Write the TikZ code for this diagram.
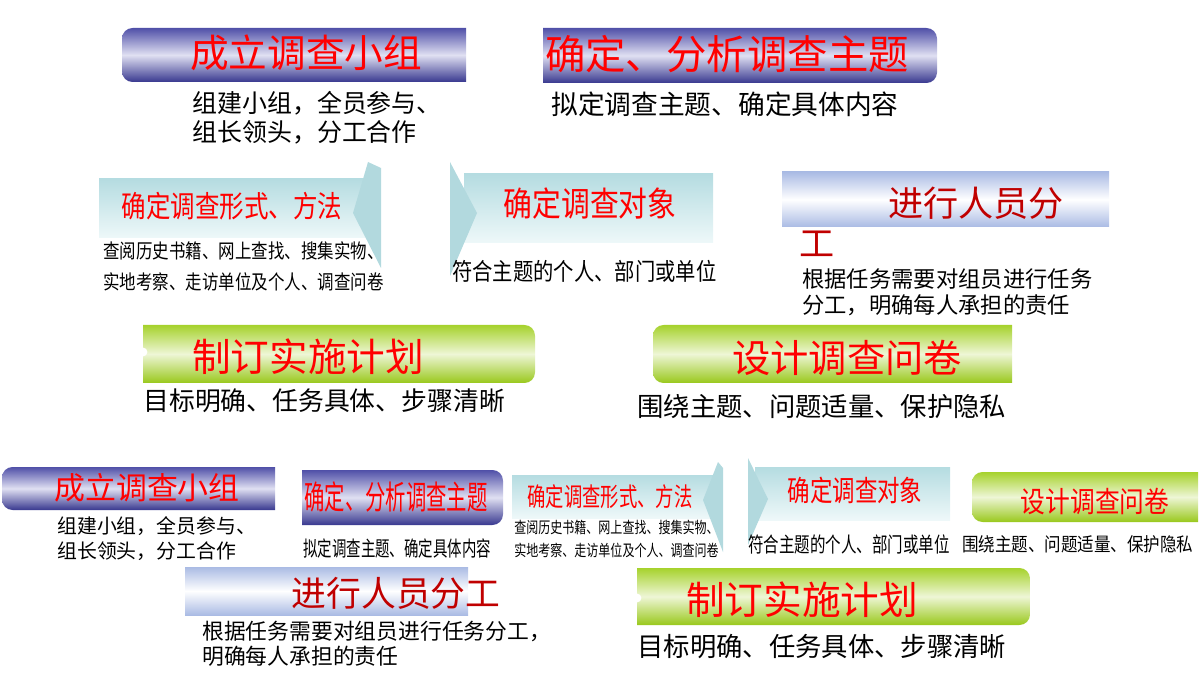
\documentclass[tikz,border=0pt]{standalone}
\usepackage{fontspec}
\usepackage{graphicx}
\usepackage{tikz}
\newfontfamily\cjk{Noto Sans CJK SC}
\newcommand{\csz}[2]{\fontsize{#1}{#2}\selectfont}
\newcommand{\narrow}[2]{\scalebox{#1}[1]{#2}}
\definecolor{ptop}{HTML}{5050A8}
\definecolor{pbot}{HTML}{38388F}
\definecolor{pmid}{HTML}{E0E0F2}
\definecolor{gtop}{HTML}{A6D22C}
\definecolor{gbot}{HTML}{99C81C}
\definecolor{gmid}{HTML}{EEF6D6}
\definecolor{ctop}{HTML}{B5DCE1}
\definecolor{cbot}{HTML}{EEF8F9}
\definecolor{chevcol}{HTML}{B2D9DE}
\definecolor{bedge}{HTML}{AABBE4}
\definecolor{titlered}{HTML}{FF0000}
\definecolor{darkred}{HTML}{C00000}

\begin{document}
\begin{tikzpicture}[x=0.02cm,y=-0.02cm,
    title/.style={inner sep=0pt,text=titlered,font=\cjk},
    desc/.style={inner sep=0pt,anchor=north west,align=left,font=\cjk},
    purplebox/.style={top color=ptop,bottom color=pbot,middle color=pmid},
    greenbox/.style={top color=gtop,bottom color=gbot,middle color=gmid},
    cyanbox/.style={top color=ctop,bottom color=cbot},
    bluebox/.style={top color=bedge,bottom color=bedge,middle color=white},
    chev/.style={fill=chevcol}]

\useasboundingbox (0,0) rectangle (1200,675);

% top part: boxes
\begin{scope}
  \clip (122,28) rectangle (466,82);
  \shade[purplebox,rounded corners=6pt] (122,28) rectangle (490,82);
\end{scope}
\begin{scope}
  \clip (543,28) rectangle (937,83);
  \shade[purplebox,rounded corners=6pt] (520,28) rectangle (937,83);
\end{scope}
\shade[cyanbox] (99,179) rectangle (365,238);
\fill[chev] (368,162) -- (381,168) -- (381,268) -- (353,213) -- cycle;
\shade[cyanbox] (464,174) rectangle (713,243);
\fill[chev] (450,162) -- (477,213) -- (450,276) -- cycle;
\shade[bluebox] (782,172) rectangle (1109,227);
\begin{scope}
  \clip (143,325) rectangle (535,383);
  \shade[greenbox,rounded corners=6pt] (120,325) rectangle (535,383);
\end{scope}
\fill[white] (143,352) circle[radius=2.5pt];
\begin{scope}
  \clip (653,325) rectangle (1012,383);
  \shade[greenbox,rounded corners=6pt] (653,325) rectangle (1040,383);
\end{scope}

% top part: texts
\node[title] (tzuzhi) at (306,53) {\csz{22}{26}成立调查小组};
\node[desc,font=\cjk\csz{14.2}{16.4}] (dzuzhi) at (192,91) {组建小组，全员参与、\\组长领头，分工合作};
\node[title] (tzhuti) at (727,54) {\csz{23}{27}确定、分析调查主题};
\node[desc] (dzhuti) at (551,92) {\csz{15.2}{18}拟定调查主题、确定具体内容};
\node[title] (tfangfa) at (232,206) {\csz{17}{20}\narrow{0.82}{确定调查形式、方法}};
\node[desc] (dfangfa) at (103,241) {\csz{11.3}{18.1}\narrow{0.83}{\vbox{\hbox{查阅历史书籍、网上查找、搜集实物、}\hbox{实地考察、走访单位及个人、调查问卷}}}};
\node[title] (tduixiang) at (590,204) {\csz{19.3}{22}\narrow{0.85}{确定调查对象}};
\node[desc] (dduixiang) at (452,260) {\csz{13.6}{16}\narrow{0.85}{符合主题的个人、部门或单位}};
\node[title,text=darkred] (tfengong) at (976,203) {\csz{20}{24}进行人员分};
\node[title,text=darkred] (tgong) at (817,244) {\csz{20}{24}工};
\node[desc,font=\cjk\csz{12.7}{15.3}] (dfengong) at (802,268) {根据任务需要对组员进行任务\\分工，明确每人承担的责任};
\node[title] (tjihua) at (308,357) {\csz{22}{26}制订实施计划};
\node[desc] (djihua) at (143,388) {\csz{14.7}{18}目标明确、任务具体、步骤清晰};
\node[title] (twenjuan) at (847,358) {\csz{21.8}{26}设计调查问卷};
\node[desc] (dwenjuan) at (637,394) {\csz{15}{18}围绕主题、问题适量、保护隐私};

% bottom part: boxes
\begin{scope}
  \clip (2,467) rectangle (275,510);
  \shade[purplebox,rounded corners=6pt] (2,467) rectangle (300,510);
\end{scope}
\begin{scope}
  \clip (302,470) rectangle (503,525);
  \shade[purplebox,rounded corners=6pt] (280,470) rectangle (503,525);
\end{scope}
\shade[cyanbox] (512,475) rectangle (715,518);
\fill[chev] (718,462) -- (723,468) -- (723,552) -- (703,500) -- cycle;
\shade[cyanbox] (755,467) rectangle (950,520);
\fill[chev] (748,458) -- (768,499) -- (748,545) -- cycle;
\begin{scope}
  \clip (972,472) rectangle (1198,522);
  \shade[greenbox,rounded corners=6pt] (972,472) rectangle (1220,522);
\end{scope}
\shade[bluebox] (185,567) rectangle (468,615);
\begin{scope}
  \clip (637,568) rectangle (1030,625);
  \shade[greenbox,rounded corners=6pt] (610,568) rectangle (1030,625);
\end{scope}
\fill[white] (637,598) circle[radius=2.5pt];

% bottom part: texts
\node[title] (bzuzhi) at (147,488) {\csz{17.6}{21}成立调查小组};
\node[desc,font=\cjk\csz{11.3}{14.2}] (czuzhi) at (57,516) {组建小组，全员参与、\\组长领头，分工合作};
\node[title] (bzhuti) at (396,497) {\csz{18.7}{22}\narrow{0.62}{确定、分析调查主题}};
\node[desc] (czhuti) at (303,538) {\csz{11.9}{14}\narrow{0.69}{拟定调查主题、确定具体内容}};
\node[title] (bfangfa) at (610,497) {\csz{14.7}{18}\narrow{0.71}{确定调查形式、方法}};
\node[desc] (cfangfa) at (514,520) {\csz{9}{13}\narrow{0.76}{\vbox{\hbox{查阅历史书籍、网上查找、搜集实物、}\hbox{实地考察、走访单位及个人、调查问卷}}}};
\node[title] (bduixiang) at (855,490) {\csz{16.4}{20}\narrow{0.78}{确定调查对象}};
\node[desc] (cduixiang) at (748,534) {\csz{11.9}{14}\narrow{0.74}{符合主题的个人、部门或单位}};
\node[title] (bwenjuan) at (1095,502) {\csz{16.4}{20}\narrow{0.86}{设计调查问卷}};
\node[desc] (cwenjuan) at (962,535) {\csz{10.8}{13}\narrow{0.87}{围绕主题、问题适量、保护隐私}};
\node[title,text=darkred] (bfengong) at (396,593) {\csz{19.8}{24}进行人员分工};
\node[desc,font=\cjk\csz{12.4}{14.2}] (cfengong) at (202,621) {根据任务需要对组员进行任务分工，\\明确每人承担的责任};
\node[title] (bjihua) at (802,600) {\csz{22}{26}制订实施计划};
\node[desc] (cjihua) at (637,634) {\csz{15}{18}目标明确、任务具体、步骤清晰};

\end{tikzpicture}
\end{document}
